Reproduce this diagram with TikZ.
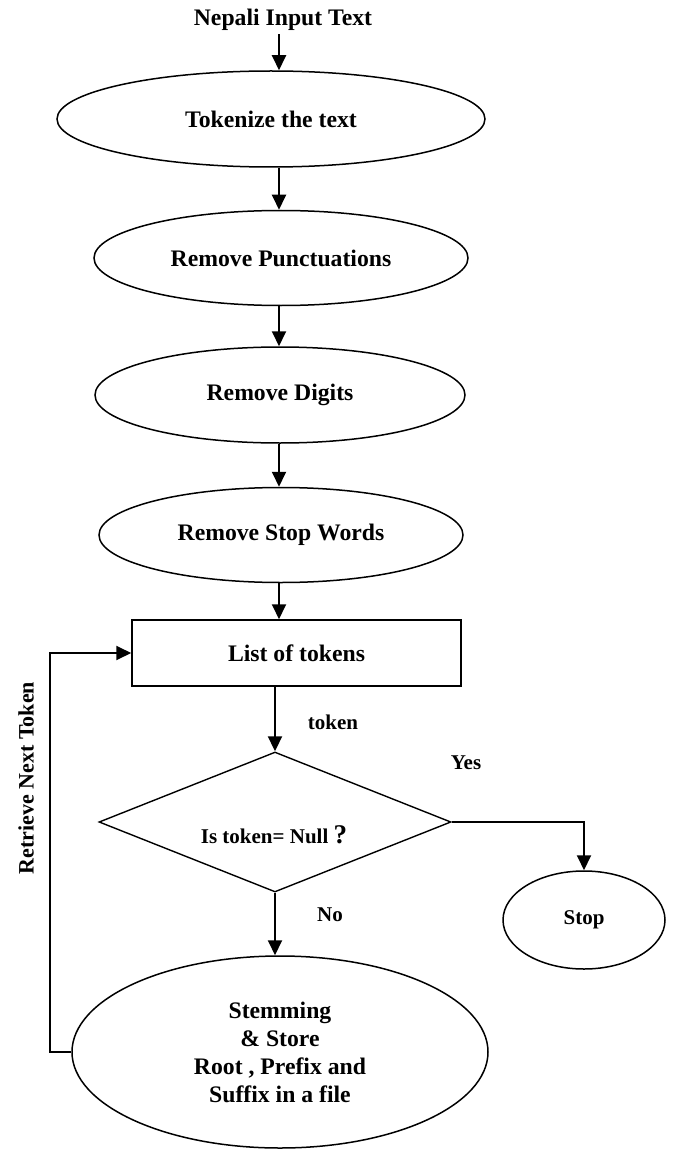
\documentclass[tikz,border=0pt]{standalone}
\usepackage{fontspec}
\setmainfont{Liberation Serif}
\usetikzlibrary{shapes.geometric,arrows.meta,calc}
\begin{document}
\begin{tikzpicture}[x=1pt,y=-1pt,
  every node/.style={font=\bfseries\fontsize{23.7}{28}\selectfont},
  proc/.style={ellipse,draw,line width=1.5pt,inner sep=0pt},
  lbl/.style={font=\bfseries\fontsize{21}{24}\selectfont},
  arr/.style={-{Triangle[length=15pt,width=14pt]},line width=1.9pt}]
\path[use as bounding box,fill=white] (0,0) rectangle (673,1150);
\coordinate (ax) at (279,0);
\coordinate (lx) at (50,0);
\node (title) at (283,20) {Nepali Input Text};
\node[proc,minimum width=428pt,minimum height=96pt] (e1) at (271,119) {Tokenize the text};
\node[proc,minimum width=374pt,minimum height=95pt] (e2) at (281,258) {Remove Punctuations};
\node[proc,minimum width=370pt,minimum height=96pt] (e3) at (280,395) {Remove Digits};
\node[proc,minimum width=364pt,minimum height=95pt] (e4) at (281,535) {Remove Stop Words};
\node[draw,line width=1.5pt,minimum width=329pt,minimum height=66pt,inner sep=0pt] (list) at (296.5,653) {List of tokens};
\node[diamond,draw,line width=1.4pt,minimum width=352pt,minimum height=140pt,aspect=2.514,inner sep=0pt] (dia) at (275,822) {};
\node[lbl] (q) at (274,835) {Is token= Null {\fontsize{27}{30}\selectfont ?}};
\node[proc,lbl,minimum width=162pt,minimum height=98pt] (stop) at (584,920) {Stop};
\node[proc,minimum width=416pt,minimum height=192pt,align=center] (stem) at (280,1052) {Stemming\\ \& Store\\ Root , Prefix and\\ Suffix in a file};
\node[lbl] (tok) at (333,722) {token};
\node[lbl] (yes) at (466,763) {Yes};
\node[lbl] (no) at (330,915) {No};
\node[rotate=90,font=\bfseries\fontsize{22}{24}\selectfont] (ret) at (26,778) {Retrieve Next Token};
\draw[arr] (title.south -| ax) -- (ax |- e1.north);
\draw[arr] (ax |- e1.south) -- (ax |- e2.north);
\draw[arr] (ax |- e2.south) -- (ax |- e3.north);
\draw[arr] (ax |- e3.south) -- (ax |- e4.north);
\draw[arr] (ax |- e4.south) -- (ax |- list.north);
\draw[arr] (list.south -| dia.north) -- (dia.north);
\draw[arr] (dia.south) -- (dia.south |- stem.north);
\draw[arr] (dia.east) -| (stop.north);
\draw[arr] (stem.west) -- (stem.west -| lx) |- (list.west);
\end{tikzpicture}
\end{document}
